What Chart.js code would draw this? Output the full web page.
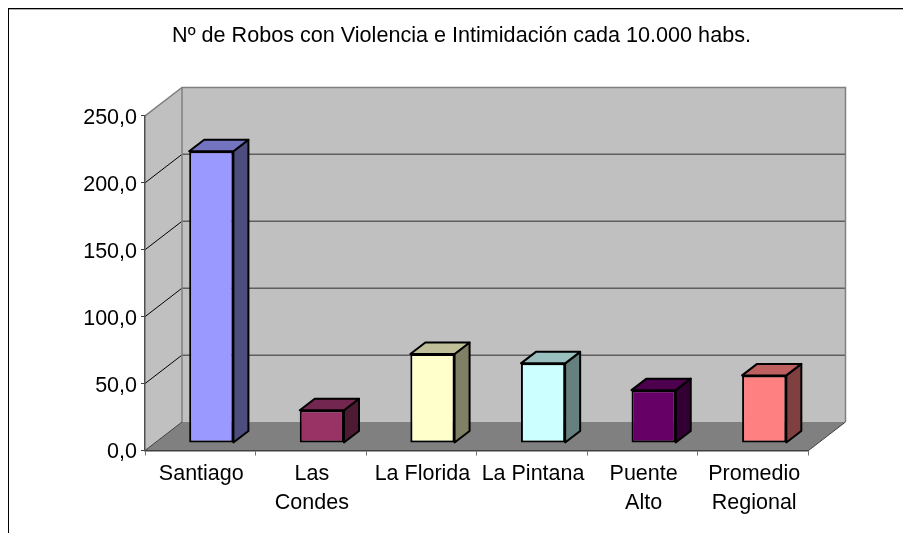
<!DOCTYPE html>
<html>
<head>
<meta charset="utf-8">
<title>Robos</title>
<script src="https://cdn.jsdelivr.net/npm/chart.js@4"></script>
<style>
  body { margin: 0; background: #fff; }
  canvas { display: block; }
</style>
</head>
<body>
<canvas id="robos" width="903" height="533"></canvas>
<script>
// datos
const categorias = [["Santiago"], ["Las", "Condes"], ["La Florida"], ["La Pintana"], ["Puente", "Alto"], ["Promedio", "Regional"]];
const valores = [218, 24.5, 66.5, 59.5, 39.5, 50.5];
const colores = ['#9999ff', '#993366', '#ffffcc', '#ccffff', '#660066', '#ff8080'];
const colorTapa = ['#7373bf', '#732650', '#bfbf99', '#99bfbf', '#4d004d', '#bf6060'];
const colorLado = ['#4d4d80', '#4d1a33', '#808066', '#668080', '#330033', '#804040'];
const titulo = "Nº de Robos con Violencia e Intimidación cada 10.000 habs.";

const fuente = "'Liberation Sans', Arial, sans-serif";
// profundidad de la caja y de las barras
const cajaX = 37, cajaY = 28.5;
const barraX = 15, barraY = 11.5;
const despX = 11, despY = 7.5;

function poly(ctx, pts, fill, stroke, lw) {
  ctx.beginPath();
  pts.forEach((p, i) => i ? ctx.lineTo(p[0], p[1]) : ctx.moveTo(p[0], p[1]));
  ctx.closePath();
  if (fill) { ctx.fillStyle = fill; ctx.fill(); }
  if (stroke) { ctx.strokeStyle = stroke; ctx.lineWidth = lw; ctx.stroke(); }
}

// paredes, piso y lineas de division
const caja3d = {
  id: 'caja3d',
  afterLayout(chart) {
    // el titulo no esta centrado en el lienzo
    chart.titleBlock.left = 20;
    chart.titleBlock.right = 903;
  },
  beforeDraw(chart) {
    const ctx = chart.ctx, a = chart.chartArea, y = chart.scales.y;
    const l = a.left, r = a.right, t = a.top, b = a.bottom;
    ctx.save();
    // marco
    ctx.fillStyle = '#000';
    ctx.fillRect(8, 8, 895, 1);
    ctx.fillRect(8, 8, 1, 525);
    ctx.fillStyle = '#b0b0b0';
    ctx.fillRect(9, 9, 894, 1);

    poly(ctx, [[l, t], [l + cajaX, t - cajaY], [l + cajaX, b - cajaY], [l, b]], '#c0c0c0');
    poly(ctx, [[l + cajaX, t - cajaY], [r + cajaX, t - cajaY], [r + cajaX, b - cajaY], [l + cajaX, b - cajaY]], '#c0c0c0');
    poly(ctx, [[l, b], [l + cajaX, b - cajaY], [r + cajaX, b - cajaY], [r, b]], '#808080');

    y.ticks.forEach(tk => {
      const py = y.getPixelForValue(tk.value);
      if (tk.value === 0) return;
      if (tk.value < y.max) {
        ctx.beginPath();
        ctx.moveTo(l, py);
        ctx.lineTo(l + cajaX, py - cajaY);
        ctx.strokeStyle = '#000';
        ctx.lineWidth = 1;
        ctx.stroke();
        ctx.fillStyle = '#5f5f5f';
        ctx.fillRect(l + cajaX, Math.round(py - cajaY) - 0.5, r - l, 1.5);
      }
    });
    // bordes de la caja
    ctx.strokeStyle = '#808080';
    ctx.lineWidth = 1.5;
    ctx.beginPath();
    ctx.moveTo(l, t);
    ctx.lineTo(l + cajaX, t - cajaY);
    ctx.lineTo(r + cajaX, t - cajaY);
    ctx.lineTo(r + cajaX, b - cajaY);
    ctx.moveTo(l + cajaX, t - cajaY);
    ctx.lineTo(l + cajaX, b - cajaY);
    ctx.stroke();
    ctx.lineWidth = 1;
    ctx.strokeStyle = '#404040';
    ctx.beginPath();
    ctx.moveTo(r, b);
    ctx.lineTo(r + cajaX, b - cajaY);
    ctx.moveTo(l, b);
    ctx.lineTo(l + cajaX, b - cajaY);
    ctx.stroke();
    ctx.restore();
  },
  beforeDatasetDraw(chart, args) {
    const ctx = chart.ctx;
    ctx.save();
    ctx.translate(despX, -despY);
    ctx.lineJoin = 'round';
    args.meta.data.forEach((bar, i) => {
      const p = bar.getProps(['x', 'y', 'base', 'width']);
      const der = p.x + p.width / 2, izq = p.x - p.width / 2;
      poly(ctx, [[der, p.y], [der + barraX, p.y - barraY], [der + barraX, p.base - barraY], [der, p.base]], colorLado[i], '#000', 2);
      poly(ctx, [[izq, p.y], [izq + barraX, p.y - barraY], [der + barraX, p.y - barraY], [der, p.y]], colorTapa[i], '#000', 2);
    });
  },
  afterDatasetDraw(chart) {
    chart.ctx.restore();
  }
};

new Chart(document.getElementById('robos').getContext('2d'), {
  type: 'bar',
  data: {
    labels: categorias,
    datasets: [{
      data: valores,
      backgroundColor: colores,
      borderColor: '#000',
      borderWidth: 2,
      borderSkipped: false,
      categoryPercentage: 1,
      barPercentage: 0.4,
      clip: false
    }]
  },
  plugins: [caja3d],
  options: {
    responsive: false,
    animation: false,
    layout: { padding: { left: 0, right: 94.5, top: 0, bottom: 0 } },
    plugins: {
      legend: { display: false },
      tooltip: { enabled: false },
      title: {
        display: true,
        text: titulo,
        color: '#000',
        font: { family: fuente, size: 21.6, weight: 'normal' },
        padding: { top: 23, bottom: 67 }
      }
    },
    scales: {
      x: {
        afterFit(s) { s.height = 82.5; },
        border: { color: '#404040', width: 1.5 },
        grid: { offset: true, drawOnChartArea: false, color: '#707070', tickLength: 5 },
        ticks: {
          color: '#000', padding: 4, labelOffset: 1, maxRotation: 0, autoSkip: false,
          font: { family: fuente, size: 21.5, lineHeight: 1.35 }
        }
      },
      y: {
        min: 0, max: 250,
        afterFit(s) { s.width = 145; },
        border: { color: '#505050', width: 1.5 },
        grid: { drawOnChartArea: false, color: '#404040', tickLength: 4 },
        ticks: {
          stepSize: 50, color: '#000', padding: 4, labelOffset: 2,
          font: { family: fuente, size: 21.5 },
          callback: v => v.toFixed(1).replace('.', ',')
        }
      }
    }
  }
});
</script>
</body>
</html>
